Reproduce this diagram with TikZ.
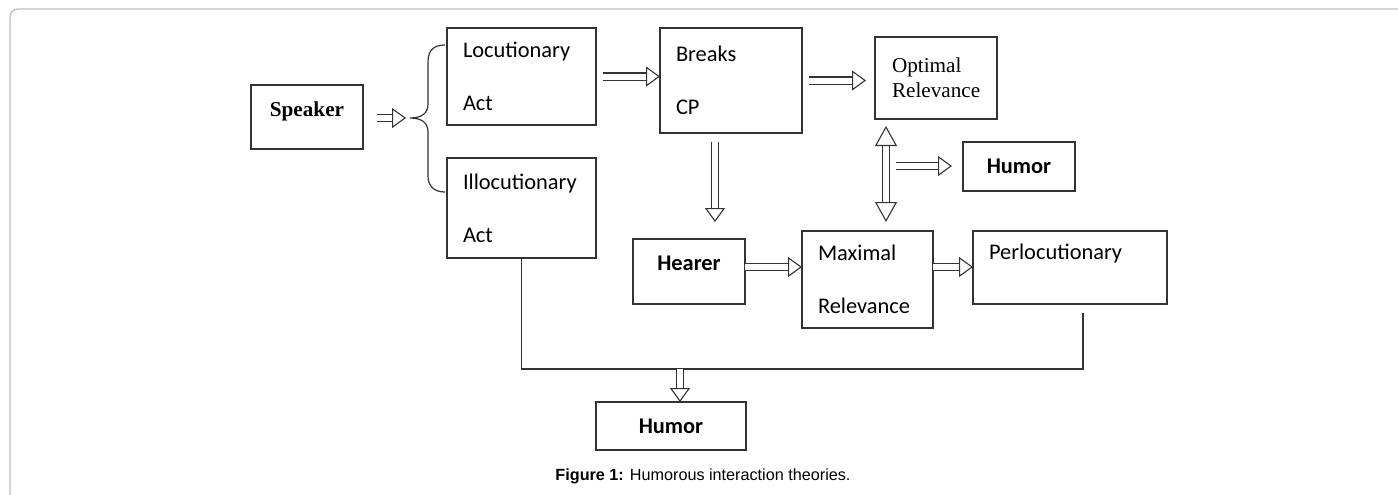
\documentclass[tikz,border=0pt]{standalone}
\usepackage{fontspec}
\setmainfont{Carlito}
\newfontfamily\timesfont{Liberation Serif}
\newfontfamily\arialfont{Liberation Sans}
\usetikzlibrary{arrows.meta, calc, positioning}

\tikzset{
  box/.style={draw=black!80, line width=0.6pt, inner sep=0pt, outer sep=0pt, minimum width=56pt},
  textbox/.style={box, align=left, inner xsep=8pt, font=\fontsize{11.2}{26.5}\selectfont},
  hollow/.style={draw=black!80, line width=0.55pt, double=white, double distance=3pt,
    -{Triangle[open, fill=white, length=7pt, width=10pt]}},
  hollowboth/.style={hollow, {Triangle[open, fill=white, length=10pt, width=11pt]}-{Triangle[open, fill=white, length=10pt, width=11pt]}},
}

\begin{document}
\begin{tikzpicture}[x=0.5pt, y=-0.5pt]
        \useasboundingbox (0,0) rectangle (1398,494);
        % Page frame
        \draw[gray!50, line width=0.7pt, rounded corners=4pt] (10,500) -- (10,9) -- (1405,9);

        % Boxes
        \node[box, minimum width=56pt, minimum height=32pt, text depth=8pt, font=\timesfont\bfseries\fontsize{10.6}{12}\selectfont] (spk) at (307,117) {Speaker};
        \node[textbox, text width=58.5pt, minimum height=48.5pt] (loc) at (521.5,76.5) {Locutionary\\Act};
        \node[textbox, text width=58.5pt, minimum height=50pt] (illoc) at (521.5,208) {Illocutionary\\Act};
        \node[textbox, text width=55pt, minimum height=52.5pt] (breaks) at (731,80.5) {Breaks\\CP};
        \node[textbox, text width=44pt, inner xsep=8.5pt, minimum height=41pt, font=\timesfont\fontsize{10.6}{12.5}\selectfont] (optimal) at (936,78) {Optimal\\Relevance};
        \node[box, minimum width=56pt, minimum height=24.5pt, font=\bfseries\fontsize{11.2}{13}\selectfont] (humorR) at (1019,166.5) {Humor};
        \node[box, minimum width=56pt, minimum height=32.5pt, text depth=8.5pt, font=\bfseries\fontsize{11.2}{13}\selectfont] (hearer) at (689,271.5) {Hearer};
        \node[textbox, text width=49.5pt, minimum height=48.5pt] (maximal) at (867.5,279.5) {Maximal\\Relevance};
        \node[textbox, text width=81pt, minimum height=36.5pt, text depth=16pt] (perloc) at (1070,267.5) {Perlocutionary};
        \node[box, minimum width=75pt, minimum height=24pt, font=\bfseries\fontsize{11.2}{13}\selectfont] (humorB) at (671,426) {Humor};

        % Brace from speaker to the two acts
        \coordinate (fork) at (410,118);
        \draw[black!80, line width=0.6pt] (445,45) .. controls (434,45) and (428,50) .. (428,62) -- (428,104)
          .. controls (428,113) and (422,118) .. (fork) .. controls (422,118) and (428,123) .. (428,132)
          -- (428,176) .. controls (428,186) and (434,192) .. (445,192);

        % Hollow arrows
        \draw[hollow, shorten <=7pt, shorten >=2pt] (spk.east |- fork) -- (fork);
        \draw[hollow, shorten <=3.5pt] (loc.east) -- (loc.east -| breaks.west);
        \draw[hollow, shorten <=3.5pt, shorten >=4.5pt] (breaks.east) -- (breaks.east -| optimal.west);
        \draw[hollow, shorten <=4.5pt, shorten >=8.5pt] ([xshift=-8pt]breaks.south) -- ([xshift=-8pt]breaks.south |- hearer.north);
        \draw[hollowboth, shorten <=3.5pt, shorten >=4.5pt] ([xshift=5.5pt]optimal.south west) -- ([xshift=5.5pt]optimal.south west |- maximal.north);
        \coordinate (vmid) at (886,166);
        \draw[hollow, shorten <=5pt, shorten >=5.5pt] (vmid) -- (vmid -| humorR.west);
        \draw[hollow] (hearer.east |- 0,267) -- (maximal.west |- 0,267);
        \draw[hollow] (maximal.east |- 0,267) -- (perloc.west |- 0,267);

        % Joint line to the lower humor
        \coordinate (join) at (680,369);
        \draw[black!80, line width=0.6pt] (illoc.south) |- (join) -| ([xshift=6.5pt, yshift=-4.5pt]perloc.south);
        \draw[hollow] (join) -- (join |- humorB.north);

        % Caption
        \node[font=\arialfont\fontsize{8.1}{9}\selectfont] (caption) at (703,476) {\textbf{Figure 1:} Humorous interaction theories.};
\end{tikzpicture}
\end{document}
